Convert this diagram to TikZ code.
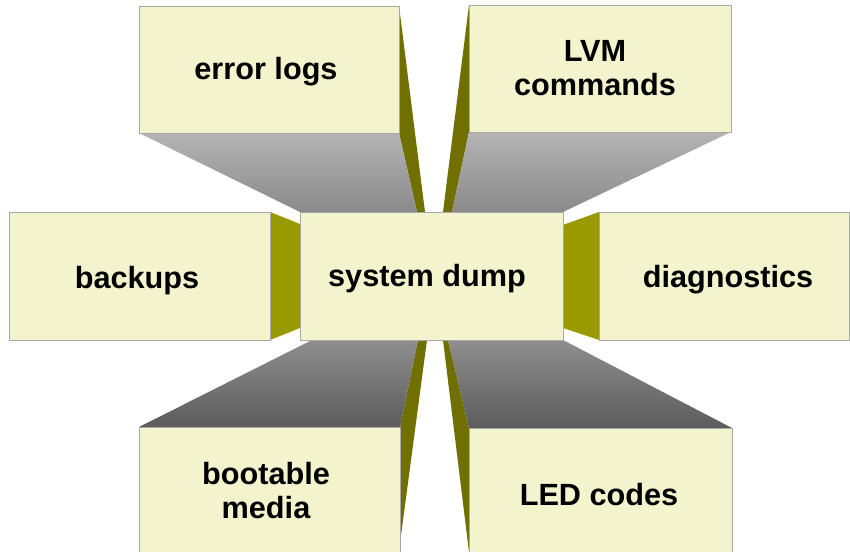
\documentclass[tikz,border=0pt]{standalone}
\usepackage{fontspec}
\setmainfont{Liberation Sans}
\usetikzlibrary{fit}
\definecolor{boxfill}{HTML}{F3F3CD}
\definecolor{boxline}{HTML}{A8A8A8}
\definecolor{olivelr}{HTML}{999900}
\definecolor{olivetb}{HTML}{707000}
\definecolor{grayA}{HTML}{B4B4B4}
\definecolor{grayB}{HTML}{8A8A8A}
\definecolor{grayC}{HTML}{8E8E8E}
\definecolor{grayD}{HTML}{5C5C5C}
\tikzset{
  card/.style={draw=boxline, fill=boxfill, line width=0.6pt, inner sep=0pt},
  lbl/.style={inner sep=0pt, align=center, font=\bfseries\fontsize{23}{25.5}\selectfont},
  sidelr/.style={fill=olivelr},
  sidetb/.style={fill=olivetb},
  topshade/.style={top color=grayA, bottom color=grayB},
  botshade/.style={top color=grayC, bottom color=grayD}
}
\begin{document}
\begin{tikzpicture}[x=0.75pt,y=-0.75pt]
\useasboundingbox (0,0) rectangle (850,552);
\clip (0,0) rectangle (850,552);
% top-left
\fill[sidetb] (399,6) -- (425,212) -- (417,212) -- (399,133) -- cycle;
\shade[topshade] (139,133) -- (399,133) -- (417,212) -- (300,212) -- cycle;
% top-right
\fill[sidetb] (469,5) -- (469,132) -- (452,212) -- (443,212) -- cycle;
\shade[topshade] (469,132) -- (731,132) -- (563,212) -- (452,212) -- cycle;
% left / right
\fill[sidelr] (270,212) -- (300,224) -- (300,328) -- (270,340) -- cycle;
\fill[sidelr] (599,212) -- (563,225) -- (563,328) -- (599,340) -- cycle;
% bottom-left
\fill[sidetb] (418,340) -- (427,340) -- (400,543) -- (400,427) -- cycle;
\shade[botshade] (312,340) -- (418,340) -- (400,427) -- (139,427) -- cycle;
% bottom-right
\fill[sidetb] (443,340) -- (448,340) -- (469,428) -- (469,552) -- cycle;
\shade[botshade] (448,340) -- (563,340) -- (732,428) -- (469,428) -- cycle;
% boxes
\node[card, fit={(139,6)(399,133)}] (err) {};
\node[card, fit={(469,5)(731,132)}] (lvm) {};
\node[card, fit={(9,212)(270,340)}] (bak) {};
\node[card, fit={(599,212)(849,340)}] (diag) {};
\node[card, fit={(139,427)(400,560)}] (boot) {};
\node[card, fit={(469,428)(732,560)}] (led) {};
\node[card, fit={(300,212)(563,340)}] (dump) {};
% labels
\node[lbl, anchor=base] (errtxt) at (266,80) {error logs};
\node[lbl] (lvmtxt) at (595,68) {LVM\\commands};
\node[lbl, anchor=base] (baktxt) at (137,289) {backups};
\node[lbl, anchor=base] (diagtxt) at (728,288) {diagnostics};
\node[lbl] (boottxt) at (266,491) {bootable\\media};
\node[lbl, anchor=base] (ledtxt) at (599,505) {LED codes};
\node[lbl, anchor=base] (dumptxt) at (427,287) {system dump};
\end{tikzpicture}
\end{document}
